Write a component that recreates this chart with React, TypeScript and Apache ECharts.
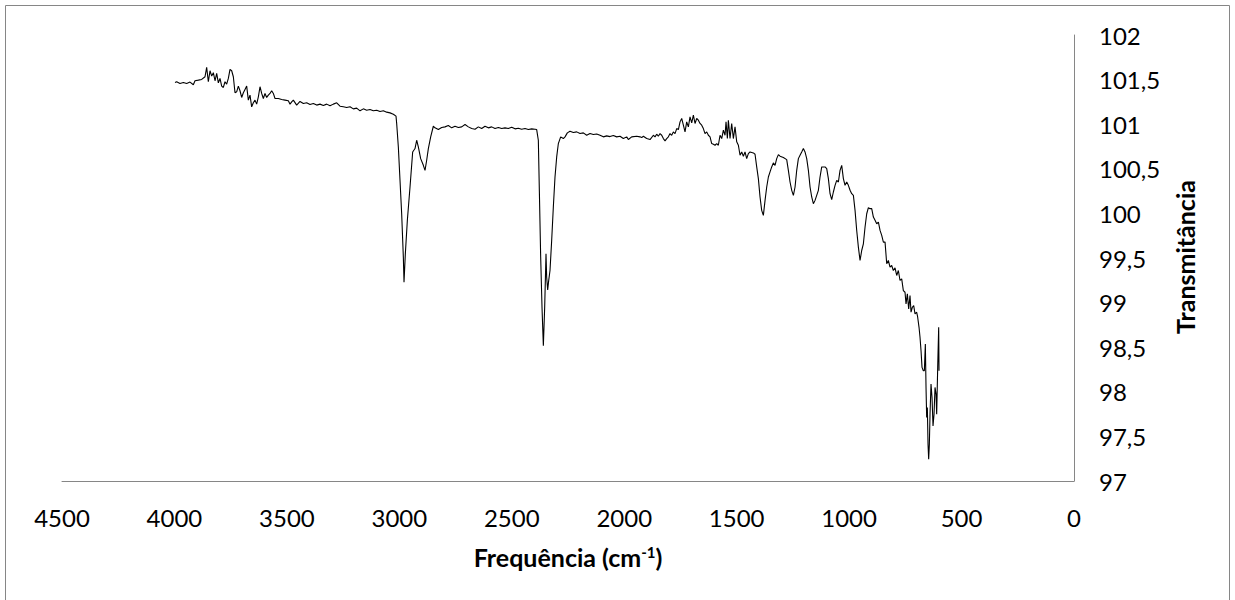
import React, { useEffect, useRef } from "react";
import * as echarts from "echarts";

// Wavenumber (cm-1)
const wavenumbers: number[] = [
  3997.5, 3990.1, 3975.3, 3960.4, 3945.6, 3930.8, 3916.0, 3908.6, 3893.8, 3878.9,
  3864.1, 3856.7, 3849.3, 3841.8, 3834.4, 3827.0, 3819.6, 3812.2, 3804.8, 3797.4,
  3790.0, 3782.6, 3775.2, 3767.8, 3760.3, 3752.9, 3745.5, 3738.1, 3730.7, 3723.3,
  3715.9, 3708.5, 3701.1, 3693.6, 3686.2, 3678.8, 3671.4, 3664.0, 3656.6, 3649.2,
  3641.8, 3634.4, 3626.9, 3619.5, 3612.1, 3604.7, 3597.3, 3589.9, 3582.5, 3575.1,
  3567.7, 3560.2, 3552.8, 3538.0, 3523.2, 3508.4, 3493.5, 3486.1, 3478.7, 3471.3,
  3456.5, 3441.6, 3426.8, 3412.0, 3397.2, 3382.3, 3367.5, 3352.7, 3337.9, 3323.1,
  3308.2, 3293.4, 3278.6, 3263.8, 3248.9, 3234.1, 3219.3, 3204.5, 3189.7, 3174.8,
  3160.0, 3145.2, 3130.4, 3115.5, 3100.7, 3085.9, 3071.1, 3056.3, 3041.4, 3026.6,
  3014.8, 3011.8, 3004.4, 2997.0, 2989.6, 2982.2, 2979.2, 2973.3, 2964.4, 2952.5,
  2940.7, 2930.3, 2922.9, 2915.5, 2905.1, 2893.2, 2885.8, 2878.4, 2871.0, 2860.6,
  2848.8, 2841.4, 2826.5, 2811.7, 2796.9, 2782.1, 2767.2, 2752.4, 2737.6, 2722.8,
  2707.9, 2693.1, 2678.3, 2663.5, 2648.7, 2633.8, 2619.0, 2604.2, 2589.4, 2574.5,
  2559.7, 2544.9, 2530.1, 2515.3, 2500.4, 2485.6, 2470.8, 2456.0, 2441.1, 2426.3,
  2411.5, 2396.7, 2389.3, 2381.9, 2377.4, 2371.5, 2365.6, 2359.6, 2353.7, 2347.8,
  2344.8, 2340.4, 2335.9, 2330.0, 2322.6, 2315.2, 2307.8, 2300.3, 2292.9, 2282.6,
  2270.7, 2263.3, 2252.9, 2241.1, 2226.2, 2211.4, 2196.6, 2181.8, 2166.9, 2152.1,
  2137.3, 2122.5, 2107.6, 2092.8, 2078.0, 2063.2, 2048.3, 2033.5, 2018.7, 2003.9,
  1989.1, 1981.6, 1966.8, 1944.6, 1929.8, 1922.3, 1914.9, 1900.1, 1885.2, 1870.4,
  1863.0, 1855.6, 1848.2, 1840.8, 1833.3, 1825.9, 1818.5, 1811.1, 1803.7, 1796.3,
  1788.9, 1781.5, 1774.1, 1766.6, 1759.2, 1751.8, 1744.4, 1737.0, 1729.6, 1722.2,
  1714.8, 1707.4, 1699.9, 1692.5, 1685.1, 1677.7, 1670.3, 1662.9, 1655.5, 1648.1,
  1640.7, 1633.2, 1625.8, 1618.4, 1611.0, 1603.6, 1596.2, 1588.8, 1581.4, 1574.0,
  1566.5, 1559.1, 1551.7, 1547.3, 1541.3, 1536.9, 1529.5, 1522.1, 1514.7, 1507.3,
  1499.8, 1492.4, 1485.0, 1477.6, 1470.2, 1462.8, 1455.4, 1448.0, 1440.6, 1425.7,
  1418.3, 1410.9, 1403.5, 1396.1, 1388.7, 1381.3, 1373.8, 1366.4, 1359.0, 1351.6,
  1344.2, 1336.8, 1329.4, 1322.0, 1314.5, 1307.1, 1292.3, 1277.5, 1270.1, 1262.7,
  1255.2, 1247.8, 1240.4, 1233.0, 1225.6, 1218.2, 1210.8, 1203.4, 1196.0, 1188.5,
  1181.1, 1173.7, 1166.3, 1158.9, 1151.5, 1144.1, 1136.7, 1129.3, 1121.8, 1107.0,
  1099.6, 1092.2, 1084.8, 1077.4, 1070.0, 1062.5, 1055.1, 1047.7, 1040.3, 1032.9,
  1025.5, 1018.1, 1010.7, 1003.3, 995.8, 988.4, 981.0, 973.6, 966.2, 958.8,
  951.4, 944.0, 936.6, 929.1, 921.7, 914.3, 906.9, 899.5, 892.1, 884.7,
  877.3, 869.8, 862.4, 855.0, 847.6, 840.2, 832.8, 825.5, 818.1, 810.7,
  803.3, 795.9, 788.4, 781.0, 773.6, 766.2, 758.8, 751.4, 746.9, 741.0,
  735.1, 729.2, 724.7, 718.8, 712.8, 706.9, 699.5, 695.1, 689.1, 684.7,
  680.2, 675.8, 669.9, 665.4, 661.0, 658.0, 655.1, 652.1, 649.1, 646.2,
  643.2, 640.2, 635.8, 631.3, 626.9, 622.4, 618.0, 613.5, 610.6, 606.1,
  601.7, 600.2,
];

// Transmittance values
const transmittance: number[] = [
  101.468, 101.476, 101.457, 101.468, 101.457, 101.472, 101.442, 101.487, 101.494, 101.502,
  101.532, 101.637, 101.476, 101.599, 101.539, 101.577, 101.487, 101.569, 101.464, 101.513,
  101.427, 101.412, 101.476, 101.449, 101.513, 101.614, 101.599, 101.532, 101.352, 101.363,
  101.427, 101.375, 101.300, 101.352, 101.390, 101.427, 101.270, 101.326, 101.195, 101.240,
  101.270, 101.225, 101.307, 101.420, 101.345, 101.288, 101.345, 101.300, 101.326, 101.345,
  101.375, 101.345, 101.288, 101.288, 101.277, 101.270, 101.262, 101.225, 101.251, 101.270,
  101.214, 101.255, 101.232, 101.240, 101.221, 101.232, 101.214, 101.225, 101.210, 101.225,
  101.206, 101.225, 101.240, 101.202, 101.195, 101.187, 101.195, 101.172, 101.180, 101.150,
  101.172, 101.157, 101.165, 101.150, 101.157, 101.142, 101.150, 101.135, 101.127, 101.112,
  101.090, 101.008, 100.745, 100.371, 99.996, 99.510, 99.229, 99.547, 99.921, 100.296,
  100.689, 100.727, 100.820, 100.745, 100.614, 100.539, 100.483, 100.596, 100.727, 100.858,
  100.977, 100.959, 100.940, 100.963, 100.970, 100.985, 100.959, 100.977, 100.963, 100.970,
  100.996, 100.970, 100.951, 100.944, 100.970, 100.951, 100.977, 100.959, 100.970, 100.951,
  100.963, 100.951, 100.959, 100.951, 100.966, 100.948, 100.955, 100.944, 100.951, 100.940,
  100.948, 100.944, 100.940, 100.820, 100.258, 99.510, 98.948, 98.517, 98.948, 99.547,
  99.285, 99.142, 99.247, 99.360, 99.697, 100.071, 100.408, 100.633, 100.783, 100.858,
  100.839, 100.858, 100.903, 100.921, 100.906, 100.914, 100.895, 100.903, 100.876, 100.895,
  100.884, 100.891, 100.876, 100.858, 100.869, 100.861, 100.873, 100.858, 100.865, 100.839,
  100.858, 100.828, 100.858, 100.865, 100.858, 100.850, 100.865, 100.839, 100.828, 100.876,
  100.858, 100.888, 100.865, 100.895, 100.876, 100.839, 100.813, 100.839, 100.858, 100.895,
  100.876, 100.914, 100.895, 100.951, 100.940, 101.026, 101.064, 100.989, 100.914, 101.026,
  100.970, 101.082, 101.015, 101.101, 101.008, 101.064, 101.045, 101.008, 100.989, 100.951,
  100.895, 100.914, 100.876, 100.858, 100.783, 100.775, 100.764, 100.783, 100.764, 100.876,
  100.839, 100.933, 100.876, 101.026, 100.839, 101.045, 100.839, 101.008, 100.839, 100.970,
  100.802, 100.764, 100.652, 100.689, 100.641, 100.689, 100.614, 100.670, 100.689, 100.678,
  100.663, 100.521, 100.390, 100.184, 100.034, 99.978, 100.146, 100.296, 100.408, 100.465,
  100.521, 100.566, 100.539, 100.614, 100.659, 100.641, 100.626, 100.603, 100.483, 100.352,
  100.259, 100.202, 100.296, 100.483, 100.614, 100.652, 100.689, 100.727, 100.689, 100.614,
  100.483, 100.296, 100.184, 100.109, 100.146, 100.202, 100.259, 100.408, 100.521, 100.521,
  100.502, 100.390, 100.221, 100.154, 100.240, 100.315, 100.371, 100.352, 100.483, 100.539,
  100.390, 100.315, 100.352, 100.315, 100.259, 100.221, 100.202, 100.034, 99.809, 99.622,
  99.472, 99.584, 99.659, 99.847, 99.996, 100.064, 100.053, 100.053, 99.959, 99.922,
  99.884, 99.903, 99.809, 99.753, 99.678, 99.678, 99.435, 99.472, 99.397, 99.416,
  99.360, 99.390, 99.304, 99.360, 99.248, 99.266, 99.135, 99.116, 98.985, 99.098,
  98.929, 99.079, 98.892, 98.948, 98.967, 98.873, 98.892, 98.836, 98.723, 98.611,
  98.461, 98.274, 98.236, 98.236, 98.536, 98.049, 97.712, 97.824, 97.412, 97.244,
  97.412, 97.749, 98.086, 97.937, 97.618, 97.749, 98.049, 97.974, 97.749, 98.274,
  98.723, 98.236,
];

const xMin = 0;
const xMax = 4500;
const xInterval = 500;
const yMin = 97;
const yMax = 102;
const yInterval = 0.5;

const xTitle = "Frequência (cm{sup|-1})";
const yTitle = "Transmitância";

export default function App() {
  const ref = useRef<HTMLDivElement>(null);

  useEffect(() => {
    if (!ref.current) return;
    const chart = echarts.init(ref.current, undefined, { renderer: "svg" });
    const data = wavenumbers.map((w, i) => [w, transmittance[i]]);
    const axisColor = "#868686";
    chart.setOption({
      animation: false,
      backgroundColor: "#ffffff",
      textStyle: { fontFamily: "Lato" },
      grid: { left: 62, right: 161, top: 35, bottom: 119, containLabel: false },
      xAxis: {
        type: "value",
        inverse: true,
        min: xMin,
        max: xMax,
        interval: xInterval,
        position: "bottom",
        axisLine: { show: true, onZero: false, lineStyle: { color: axisColor, width: 1 } },
        axisTick: { show: false },
        splitLine: { show: false },
        axisLabel: {
          color: "#000",
          fontSize: 24,
          margin: 24,
          fontFamily: "Lato",
          formatter: (v: number) => String(v),
        },
      },
      yAxis: {
        type: "value",
        position: "right",
        min: yMin,
        max: yMax,
        interval: yInterval,
        axisLine: { show: true, lineStyle: { color: axisColor, width: 1 } },
        axisTick: { show: false },
        splitLine: { show: false },
        axisLabel: {
          color: "#000",
          fontSize: 24,
          margin: 25,
          fontFamily: "Lato",
          formatter: (v: number) => String(v).replace(".", ","),
        },
      },
      graphic: [
        {
          type: "rect",
          silent: true,
          shape: { x: 5.5, y: 5.5, width: 1224, height: 600 },
          style: { fill: "none", stroke: axisColor, lineWidth: 1 },
        },
        {
          type: "text",
          x: 568,
          y: 557,
          style: {
            text: xTitle,
            fontFamily: "Lato",
            fontSize: 25,
            fontWeight: "bold",
            fill: "#000",
            align: "center",
            verticalAlign: "middle",
            rich: {
              sup: {
                fontFamily: "Lato",
                fontSize: 15,
                fontWeight: "bold",
                fill: "#000",
                verticalAlign: "top",
              },
            },
          },
        },
        {
          type: "text",
          x: 1185,
          y: 257,
          rotation: Math.PI / 2,
          style: {
            text: yTitle,
            fontFamily: "Lato",
            fontSize: 25,
            fontWeight: "bold",
            fill: "#000",
            align: "center",
            verticalAlign: "middle",
          },
        },
      ],
      series: [
        {
          type: "line",
          data,
          showSymbol: false,
          symbol: "none",
          lineStyle: { color: "#000", width: 1.1 },
        },
      ],
    });
    return () => chart.dispose();
  }, []);

  return (
    <div
      ref={ref}
      style={{ position: "absolute", left: 0, top: 0, width: 1235, height: 600 }}
    />
  );
}
